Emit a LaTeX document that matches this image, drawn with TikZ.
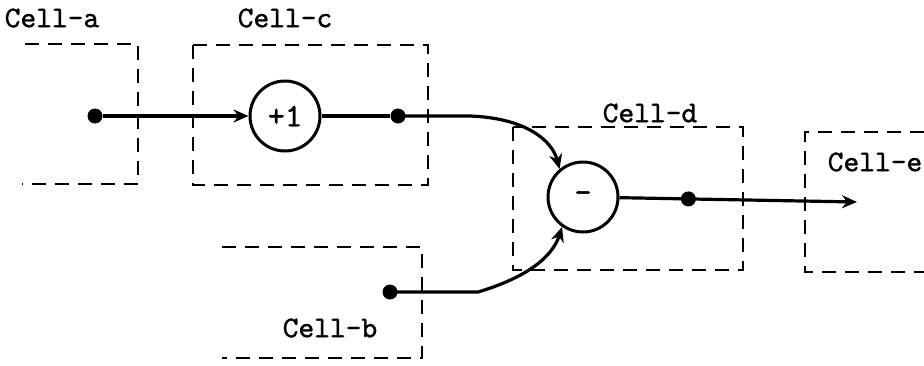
\documentclass[tikz,border=0pt]{standalone}
\usepackage{fontspec}
\newfontfamily\cellfont{lmmono10-regular.otf}[FakeBold=1.2]
\usetikzlibrary{arrows.meta}
\begin{document}
\begin{tikzpicture}[x=1pt,y=-1pt,
  cellbox/.style={line width=2.5pt, dash pattern=on 14pt off 9pt},
  wire/.style={line width=3.2pt},
  op/.style={circle, draw, line width=3pt, minimum size=70pt, inner sep=0pt, font=\cellfont\fontsize{33}{33}\selectfont},
  dotn/.style={circle, fill, minimum size=15pt, inner sep=0pt},
  lbl/.style={font=\cellfont\fontsize{30}{30}\selectfont, inner sep=0pt},
  arr/.style={-{Stealth[length=15pt,width=13pt]}}
]
\useasboundingbox (0,0) rectangle (924,365);
% cell boxes
\draw[cellbox] (25,44) -- (138,44) -- (138,184) -- (22,184);
\draw[cellbox] (193,45) rectangle (428,185);
\draw[cellbox] (513,127) rectangle (743,270);
\draw[cellbox] (924,132) -- (805,132) -- (805,272) -- (924,272);
\draw[cellbox] (222,247) -- (422,247) -- (422,358) -- (222,358);
% labels
\node[lbl] (la) at (52,18) {Cell-a};
\node[lbl] (lc) at (285,18) {Cell-c};
\node[lbl] (ld) at (650,113) {Cell-d};
\node[lbl] (le) at (875,162) {Cell-e};
\node[lbl] (lb) at (330,328) {Cell-b};
% operators and points
\node[dotn] (ain) at (95,116) {};
\node[op] (plus) at (285,116) {+1};
\node[dotn] (cout) at (398,116) {};
\node[op] (minus) at (583,197) {-};
\node[dotn] (bin) at (390,292) {};
\coordinate (eend) at (857,202);
\coordinate (bend1) at (470,116);
\coordinate (bend2) at (478,292);
% wires
\draw[wire,arr] (ain) -- (plus);
\draw[wire] (plus) -- (cout);
\draw[wire,arr] (cout.center) -- (bend1) .. controls (525,118) and (552,140) .. (minus.130);
\draw[wire,arr] (bin.center) -- (bend2) .. controls (525,278) and (552,258) .. (minus.235);
\draw[wire,arr] (minus) -- (eend) node[dotn,pos=0.29] (dout) {};
\end{tikzpicture}
\end{document}
